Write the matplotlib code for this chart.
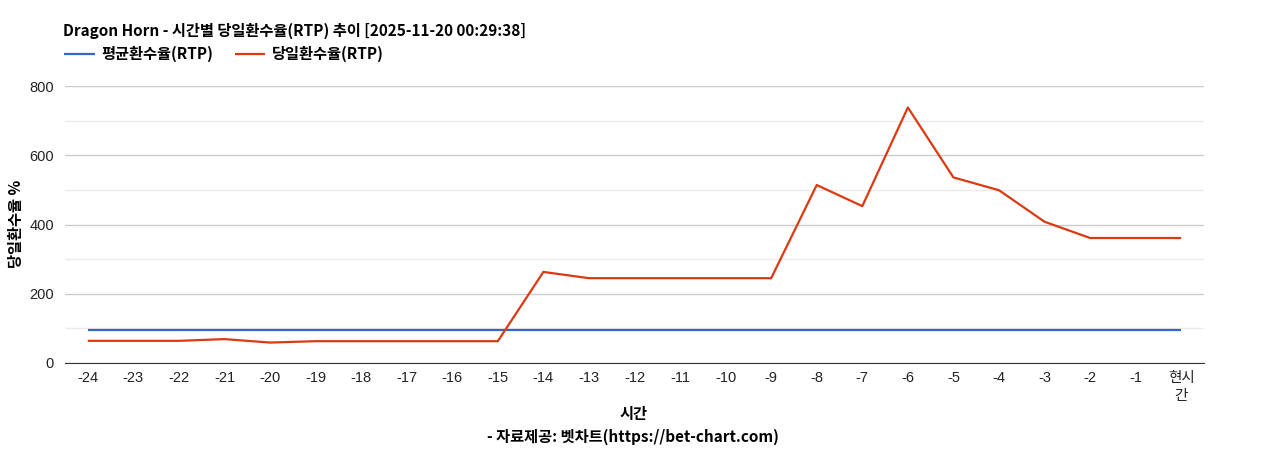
import matplotlib
matplotlib.use("Agg")
import matplotlib.pyplot as plt
from matplotlib.ticker import MultipleLocator

plt.rcParams['font.family'] = ['Noto Sans CJK KR', 'DejaVu Sans']

categories = ["-24", "-23", "-22", "-21", "-20", "-19", "-18", "-17", "-16", "-15",
              "-14", "-13", "-12", "-11", "-10", "-9", "-8", "-7", "-6", "-5",
              "-4", "-3", "-2", "-1", "현시\n간"]
avg_rtp = [96] * 25
daily_rtp = [64, 64, 64, 69, 59, 63, 63, 63, 63, 63,
             263, 245, 245, 245, 245, 245, 514, 453, 738, 536,
             499, 408, 361, 361, 361]

title = "Dragon Horn - 시간별 당일환수율(RTP) 추이 [2025-11-20 00:29:38]"
series_names = ["평균환수율(RTP)", "당일환수율(RTP)"]
y_ticks = [0, 200, 400, 600, 800]

fig = plt.figure(figsize=(12.68, 4.5), dpi=100)
ax = fig.add_axes([65/1268, 1 - 363/450, (1204 - 65)/1268, (363 - 86)/450])

x = list(range(len(categories)))
l1, = ax.plot(x, avg_rtp, color="#3366cc", lw=1.6, solid_capstyle="butt")
l2, = ax.plot(x, daily_rtp, color="#dc3912", lw=1.6, solid_capstyle="butt")

ax.set_xlim(-0.5, len(categories) - 0.5)
ax.set_ylim(0, 800)
ax.set_yticks(y_ticks)
ax.yaxis.set_minor_locator(MultipleLocator(100))
ax.grid(axis="y", which="major", color="#cccccc", lw=1)
ax.grid(axis="y", which="minor", color="#ebebeb", lw=1)
ax.set_axisbelow(True)
for s in ["top", "right", "left"]:
    ax.spines[s].set_visible(False)
ax.spines["bottom"].set_color("#333333")
ax.tick_params(axis="both", which="both", length=0)
ax.tick_params(axis="x", pad=6)
ax.tick_params(axis="y", pad=8)
ax.set_xticks(x)
ax.set_xticklabels(categories, fontsize=10.5, color="#222222",
                   family=['Liberation Sans', 'Noto Sans CJK KR'], linespacing=1.35)
ax.set_yticklabels([str(v) for v in y_ticks], fontsize=10.5, color="#222222",
                   family=['Liberation Sans'])

fig.text(63/1268, 1 - 31/450, title, fontsize=11, fontweight="bold",
         va="center", ha="left", color="#000000")
fig.legend([l1, l2], series_names, loc="center left",
           bbox_to_anchor=(58/1268, 1 - 54/450), ncol=2, frameon=False,
           prop={"size": 11, "weight": "bold"}, handlelength=2.0,
           columnspacing=1.4, handletextpad=0.45, borderaxespad=0)

fig.text(634/1268, 1 - 414/450, "시간", fontsize=11, fontweight="bold",
         ha="center", va="center")
fig.text(633/1268, 1 - 437/450, "- 자료제공: 벳차트(https://bet-chart.com)",
         fontsize=11, fontweight="bold", ha="center", va="center")
fig.text(16/1268, 1 - 224/450, "당일환수율 %", fontsize=11, fontweight="bold",
         rotation=90, ha="center", va="center")

fig.savefig("out.png", dpi=100)
